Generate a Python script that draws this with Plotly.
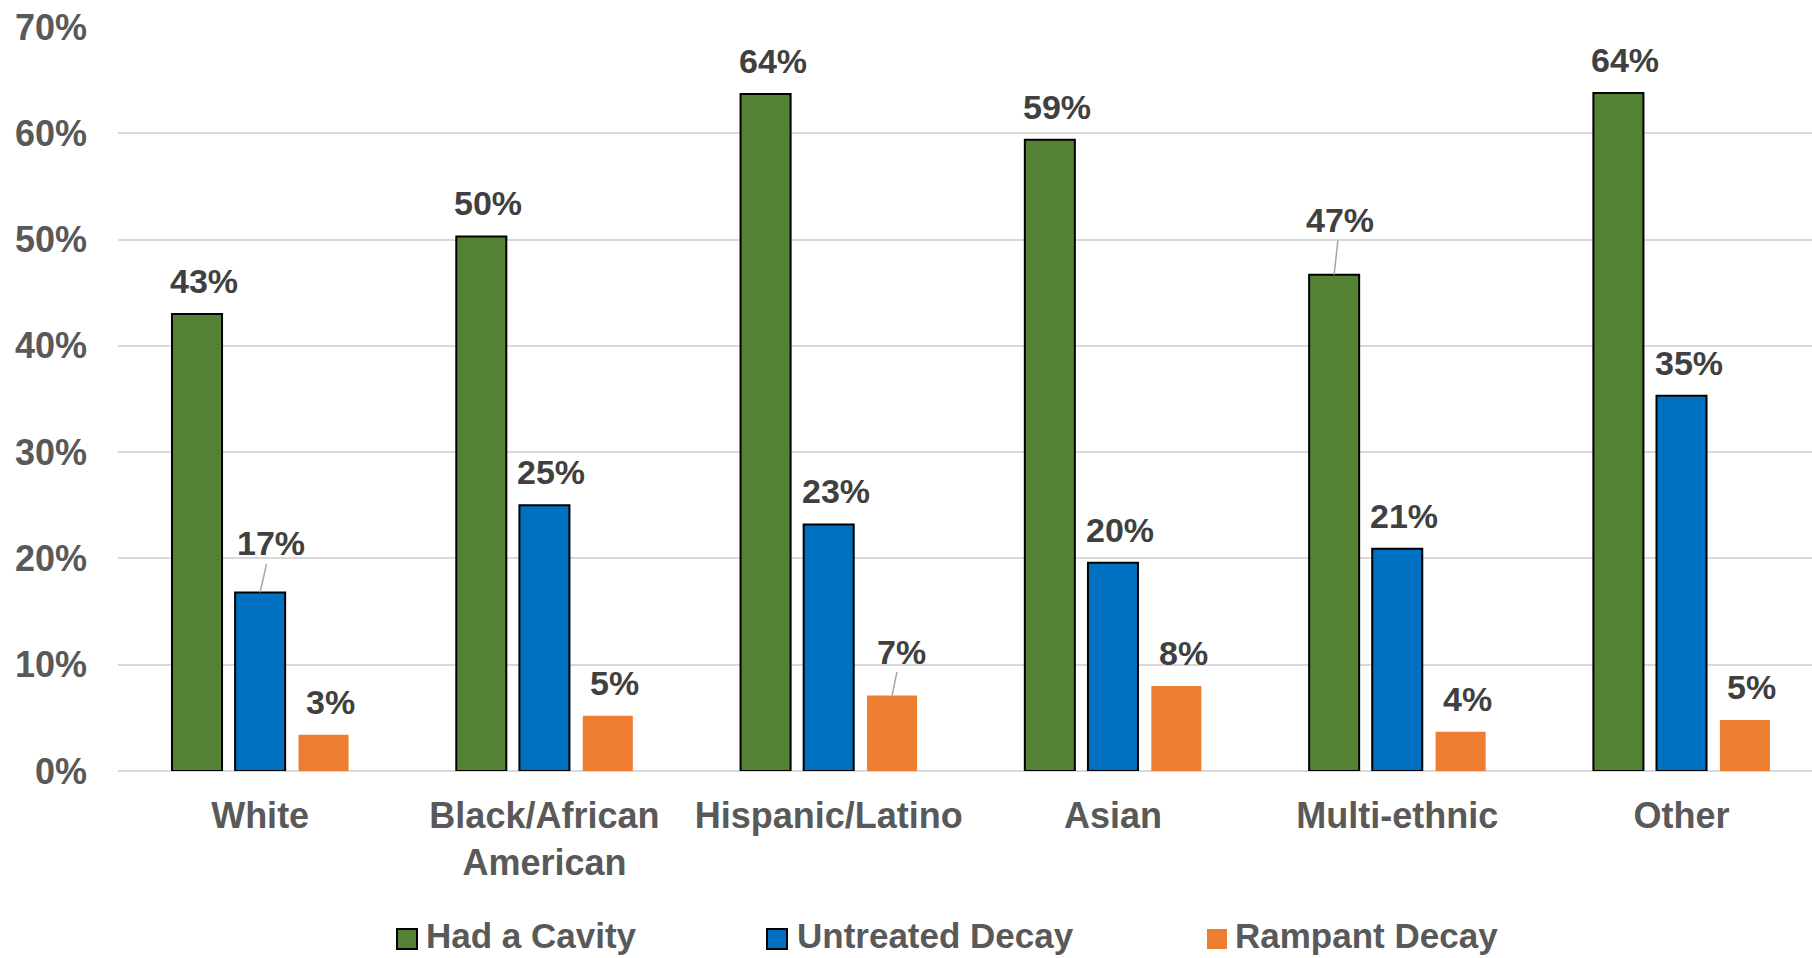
import plotly.graph_objects as go

# ---------------- data ----------------
categories = ["White", "Black/African<br>American", "Hispanic/Latino", "Asian", "Multi-ethnic", "Other"]
series_names = ["Had a Cavity", "Untreated Decay", "Rampant Decay"]
had_cavity = [0.430, 0.503, 0.637, 0.594, 0.467, 0.638]
untreated_decay = [0.168, 0.250, 0.232, 0.196, 0.209, 0.353]
rampant_decay = [0.034, 0.052, 0.071, 0.080, 0.037, 0.048]
y_ticks = [0.0, 0.1, 0.2, 0.3, 0.4, 0.5, 0.6, 0.7]

# ---------------- style ----------------
W, H = 1812, 958
ML, MR, MT, MB = 118, 0, 27, 187
PW, PH = W - ML - MR, H - MT - MB
FONT = "Liberation Sans, Arial, sans-serif"
colors = ["#548235", "#0070C0", "#ED7D31"]
outline = [("#000000", 2), ("#000000", 2), ("#ED7D31", 0)]
offsets = [-0.222, 0.0, 0.223]
bar_w = 0.176
# displaced labels with leader lines: (category index, series index) -> (ax, ay) pixels
leader = {(0, 1): (11, -49), (4, 0): (6, -55), (2, 2): (9, -44)}

series = [had_cavity, untreated_decay, rampant_decay]
x_idx = list(range(len(categories)))

fig = go.Figure()
for j, (name, vals) in enumerate(zip(series_names, series)):
    fig.add_trace(go.Bar(
        x=x_idx, y=vals, name=name,
        width=bar_w, offset=offsets[j] - bar_w / 2,
        marker=dict(color=colors[j], line=dict(color=outline[j][0], width=outline[j][1])),
        showlegend=False,
    ))

annotations = []
for j, vals in enumerate(series):
    for i, v in enumerate(vals):
        txt = f"{round(v * 100)}%"
        xc = i + offsets[j]
        if (i, j) in leader:
            ax, ay = leader[(i, j)]
            annotations.append(dict(
                x=xc, y=v, xref="x", yref="y", text=txt, showarrow=True,
                arrowhead=0, arrowwidth=1.5, arrowcolor="#A6A6A6", ax=ax, ay=ay,
                standoff=0,
                font=dict(family=FONT, size=34, color="#404040", weight="bold"),
            ))
        else:
            annotations.append(dict(
                x=xc, y=v, xref="x", yref="y", text=txt, showarrow=False,
                yanchor="bottom", xanchor="center", yshift=12, xshift=7,
                font=dict(family=FONT, size=34, color="#404040", weight="bold"),
            ))

# manual legend (pixel positions converted to paper coordinates)
def px_x(p):
    return (p - ML) / PW

def px_y(p):
    return (H - MB - p) / PH

legend_sq_left = [397, 767, 1207]
legend_txt_left = [424, 795, 1233]
shapes = []
for j, name in enumerate(series_names):
    x0 = legend_sq_left[j]
    shapes.append(dict(
        type="rect", xref="paper", yref="paper",
        x0=px_x(x0), x1=px_x(x0 + 20), y0=px_y(949), y1=px_y(929),
        fillcolor=colors[j],
        line=dict(color=outline[j][0], width=outline[j][1]),
    ))
    annotations.append(dict(
        x=px_x(legend_txt_left[j]), y=px_y(936), xref="paper", yref="paper",
        text=name, showarrow=False, xanchor="left", yanchor="middle",
        font=dict(family=FONT, size=35, color="#595959", weight="bold"),
    ))

fig.update_layout(
    width=W, height=H,
    margin=dict(l=ML, r=MR, t=MT, b=MB, pad=0),
    paper_bgcolor="white", plot_bgcolor="white",
    barmode="overlay",
    showlegend=False,
    annotations=annotations,
    shapes=shapes,
    font=dict(family=FONT),
)
fig.update_xaxes(
    range=[-0.5, 5.459],
    tickmode="array", tickvals=x_idx, ticktext=categories,
    tickfont=dict(family=FONT, size=36, color="#595959", weight="bold"),
    showgrid=False, showline=False, zeroline=False, ticks="",
    ticklabelstandoff=20,
)
fig.update_yaxes(
    range=[0, 0.7],
    tickmode="array", tickvals=y_ticks, tickformat=".0%",
    tickfont=dict(family=FONT, size=36, color="#595959", weight="bold"),
    showgrid=True, gridcolor="#D9D9D9", gridwidth=2,
    zeroline=True, zerolinecolor="#D9D9D9", zerolinewidth=2,
    showline=False, ticks="",
    ticklabelstandoff=30,
)

fig.write_html("out.html")
